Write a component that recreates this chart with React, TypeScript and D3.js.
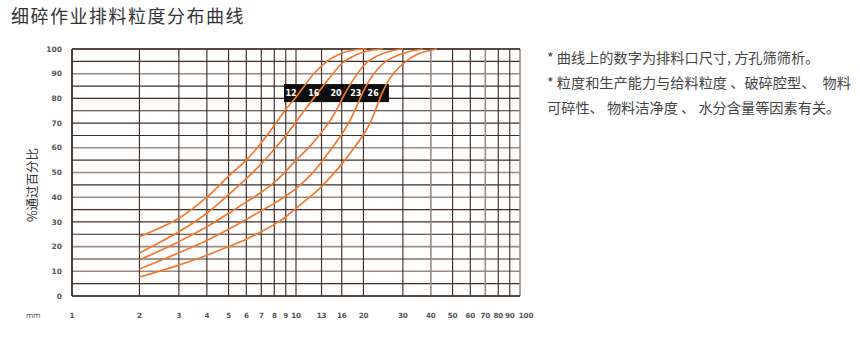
import React from "react";
import * as d3 from "d3";

const title = "细碎作业排料粒度分布曲线";
const yTitle = "%通过百分比";
const unitLabel = "mm";
const xTicks = [1, 2, 3, 4, 5, 6, 7, 8, 9, 10, 13, 16, 20, 30, 40, 50, 60, 70, 80, 90, 100];
const yTicks = [0, 10, 20, 30, 40, 50, 60, 70, 80, 90, 100];
const yGridValues = [0, 5, 10, 15, 20, 25, 30, 35, 40, 45, 50, 55, 60, 65, 70, 75, 80, 85, 90, 95, 100];

const seriesNames = ["12", "16", "20", "23", "26"];

const curve12: [number, number][] = [
  [2, 24], [3, 31.5], [4, 40], [5, 48.5], [6, 55], [7, 62], [8, 69], [9, 75.5],
  [10, 80.5], [11, 85.5], [12, 90], [13.75, 95], [15.7, 98], [17.9, 99.5], [20.7, 100],
];
const curve16: [number, number][] = [
  [2, 17.4], [3, 26], [4, 33.5], [5, 41], [6, 47.5], [7, 53.5], [8, 59.5], [9, 65],
  [10, 70.5], [11.3, 77], [13.1, 84.5], [14.3, 89], [16.2, 94.5], [18.7, 97.8],
  [21.5, 99.4], [24.5, 100],
];
const curve20: [number, number][] = [
  [2, 14.6], [3, 22], [4, 28], [5, 33.5], [6, 38], [7, 42], [8, 46], [9, 50.5],
  [10, 55], [11.5, 60.5], [12.8, 65.5], [14.2, 71], [15.5, 77], [16.55, 82], [18, 87.5],
  [19.5, 92], [21, 95], [24.9, 98.5], [30, 100],
];
const curve23: [number, number][] = [
  [2, 10.9], [3, 17.5], [4, 22.5], [5, 27], [6, 31], [7, 34.5], [8, 37.5], [9, 40.5],
  [10, 43.5], [11.5, 48.5], [12.8, 53.5], [14.5, 60], [16, 65.5], [17.4, 71], [18.7, 77],
  [19.9, 82.5], [21.5, 88], [23.5, 92.5], [25.5, 95.3], [30.7, 98.5], [36.9, 100],
];
const curve26: [number, number][] = [
  [2, 7.7], [3, 12.5], [4, 16.5], [5, 20], [6, 23], [7, 26], [8, 29], [9, 32],
  [10, 35.5], [11.5, 40], [12.8, 43.7], [14.2, 48], [16.2, 54], [18, 59.5], [19.9, 65],
  [21.4, 70], [22.8, 76], [24.2, 82], [25.6, 86.5], [27.2, 90], [30, 94], [35, 98],
  [42.6, 100],
];
const curves = [curve12, curve16, curve20, curve23, curve26];

const labelAt = [9.5, 12.0, 15.1, 18.5, 22.1];
const labelLevel = 82.2;
const labelBox = { x0: 8.84, x1: 26.0, y0: 78.5, y1: 85.8 };

const notes = [
  "* 曲线上的数字为排料口尺寸, 方孔筛筛析。",
  "* 粒度和生产能力与给料粒度 、破碎腔型、　物料",
  "可碎性、 物料洁净度 、 水分含量等因素有关。",
];

const lightX = new Set([40, 70, 100]);
const lightY = new Set([90, 60, 50, 40, 20, 10]);

const W = 860;
const H = 340;
const x = d3.scaleLog().domain([1, 100]).range([72, 520]);
const y = d3.scaleLinear().domain([0, 100]).range([296, 49]);

const dark = "#3d2e27";
const light = "#988a82";
const orange = "#ee7a2c";
const cjk = "'Noto Sans CJK SC', 'Noto Sans', sans-serif";
const tickFont = "'DejaVu Sans', sans-serif";

export default function App() {
  const line = d3
    .line<[number, number]>()
    .x((d) => x(d[0]))
    .y((d) => y(d[1]))
    .curve(d3.curveCatmullRom.alpha(0.5));

  return (
    <svg
      width={W}
      height={H}
      viewBox={`0 0 ${W} ${H}`}
      style={{ position: "absolute", left: 0, top: 0, background: "#fff" }}
    >
      <text x={11} y={22.5} fontFamily={cjk} fontSize={18} letterSpacing={1.5} fill="#333">
        {title}
      </text>

      {/* grid */}
      {yGridValues.map((v) => (
        <line
          key={"h" + v}
          x1={x(1)}
          x2={x(100)}
          y1={y(v)}
          y2={y(v)}
          stroke={lightY.has(v) ? light : dark}
          strokeWidth={lightY.has(v) ? 1.6 : 1.15}
        />
      ))}
      {xTicks.map((v) => (
        <line
          key={"v" + v}
          x1={x(v)}
          x2={x(v)}
          y1={y(0)}
          y2={y(100)}
          stroke={lightX.has(v) ? light : dark}
          strokeWidth={lightX.has(v) ? 1.6 : 1.15}
        />
      ))}
      <line x1={x(1)} x2={x(100)} y1={y(0)} y2={y(0)} stroke={dark} strokeWidth={1.6} />
      <line x1={x(1)} x2={x(100)} y1={y(100)} y2={y(100)} stroke={dark} strokeWidth={1.3} />
      <line x1={x(1)} x2={x(1)} y1={y(0)} y2={y(100)} stroke={dark} strokeWidth={1.6} />

      {/* y tick labels */}
      {yTicks.map((v) => (
        <text
          key={"yt" + v}
          x={62}
          y={y(v)}
          dy="0.35em"
          textAnchor="end"
          fontFamily={tickFont}
          fontSize={7.5}
          fontWeight="bold"
          fill="#555"
        >
          {v}
        </text>
      ))}
      {/* x tick labels */}
      {xTicks.map((v, i) => (
        <text
          key={"xt" + v}
          x={x(v) + (i === xTicks.length - 1 ? 6 : 0)}
          y={315}
          dy="0.35em"
          textAnchor="middle"
          fontFamily={tickFont}
          fontSize={7.2}
          fontWeight="bold"
          letterSpacing={-0.2}
          fill="#555"
        >
          {v}
        </text>
      ))}
      <text x={26} y={315} dy="0.35em" fontFamily={tickFont} fontSize={7.5} fill="#555">
        {unitLabel}
      </text>

      <text
        transform={`translate(37,185) rotate(-90)`}
        textAnchor="middle"
        fontFamily={cjk}
        fontSize={12.5}
        fill="#333"
      >
        {yTitle}
      </text>

      {/* label box */}
      <rect
        x={x(labelBox.x0)}
        y={y(labelBox.y1)}
        width={x(labelBox.x1) - x(labelBox.x0)}
        height={y(labelBox.y0) - y(labelBox.y1)}
        fill="#0d0d0d"
      />

      {curves.map((c, i) => (
        <path key={"c" + i} d={line(c) || ""} fill="none" stroke={orange} strokeWidth={1.7} />
      ))}

      {seriesNames.map((n, i) => (
        <text
          key={"l" + n}
          x={x(labelAt[i])}
          y={y(labelLevel)}
          dy="0.36em"
          textAnchor="middle"
          fontFamily={tickFont}
          fontSize={8}
          fontWeight="bold"
          fill="#fff"
        >
          {n}
        </text>
      ))}

      {notes.map((t, i) => (
        <text
          key={"n" + i}
          x={547}
          y={63 + i * 25}
          fontFamily={cjk}
          fontSize={14.2}
          fill="#444"
          style={{ whiteSpace: "pre" }}
        >
          {t}
        </text>
      ))}
    </svg>
  );
}
